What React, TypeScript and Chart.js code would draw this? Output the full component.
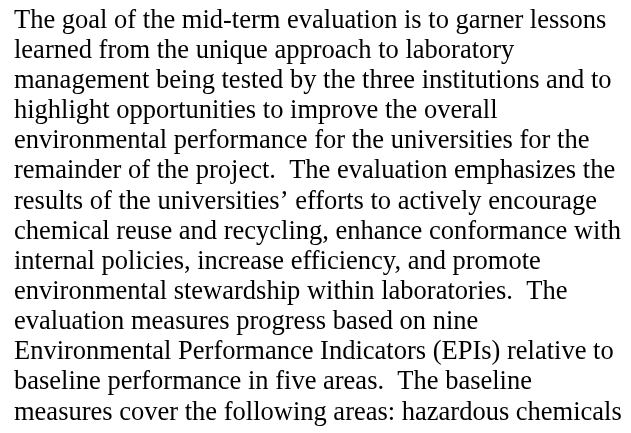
import React, { useEffect, useRef } from "react";
import { Chart, registerables } from "chart.js";

Chart.register(...registerables);

const textLines: string[] = [
  "The goal of the mid-term evaluation is to garner lessons",
  "learned from the unique approach to laboratory",
  "management being tested by the three institutions and to",
  "highlight opportunities to improve the overall",
  "environmental performance for the universities for the",
  "remainder of the project.  The evaluation emphasizes the",
  "results of the universities\u2019 efforts to actively encourage",
  "chemical reuse and recycling, enhance conformance with",
  "internal policies, increase efficiency, and promote",
  "environmental stewardship within laboratories.  The",
  "evaluation measures progress based on nine",
  "Environmental Performance Indicators (EPIs) relative to",
  "baseline performance in five areas.  The baseline",
  "measures cover the following areas: hazardous chemicals",
];

const categories: string[] = [];
const values: number[] = [];

const FONT_SIZE = 26.5;

export default function App() {
  const ref = useRef<HTMLCanvasElement | null>(null);
  useEffect(() => {
    if (!ref.current) return;
    const chart = new Chart(ref.current, {
      type: "bar",
      data: {
        labels: categories,
        datasets: [{ data: values, backgroundColor: "#000" }],
      },
      options: {
        animation: false,
        responsive: false,
        layout: { padding: { left: 14, top: 0, right: 0, bottom: 0 } },
        scales: { x: { display: false }, y: { display: false } },
        plugins: {
          legend: { display: false },
          tooltip: { enabled: false },
          title: {
            display: true,
            align: "start",
            text: textLines,
            color: "#000000",
            font: { family: "'Liberation Serif', 'Times New Roman', serif", size: FONT_SIZE, weight: "normal", lineHeight: 30.15 / FONT_SIZE },
            padding: { top: 5.6, bottom: 0 },
          },
        },
      },
    });
    return () => chart.destroy();
  }, []);
  return (
    <div style={{ position: "fixed", left: 0, top: 0, width: 631, height: 433, background: "#fff" }}>
      <canvas ref={ref} width={631} height={433} />
    </div>
  );
}
